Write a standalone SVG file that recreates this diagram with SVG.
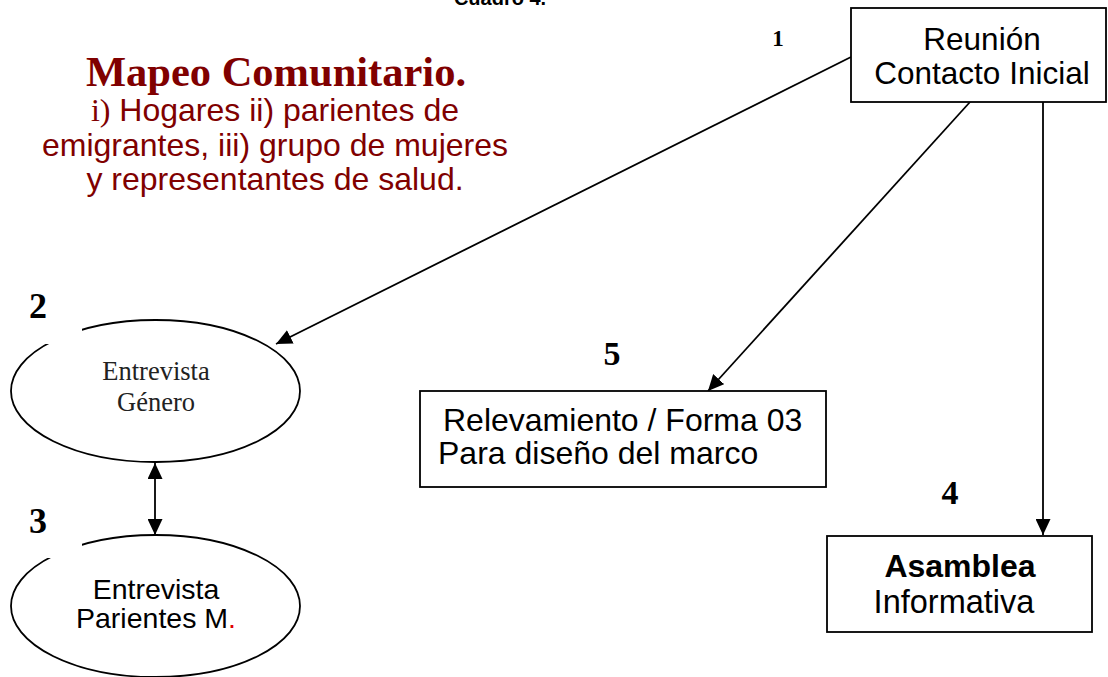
<svg xmlns="http://www.w3.org/2000/svg" width="1108" height="677" viewBox="0 0 1108 677">
<style>
.box{fill:#fff;stroke:#000;stroke-width:1.8}
.ell{fill:#fff;stroke:#000;stroke-width:1.8}
.conn{stroke:#000;stroke-width:1.8;fill:none}
.sans{font-family:"Liberation Sans",Arial,sans-serif;fill:#000}
.num{font-family:"Liberation Serif","Times New Roman",serif;font-weight:bold;fill:#000}
.maroon{fill:#800000}
</style>
<defs>
<marker id="ah" markerUnits="userSpaceOnUse" markerWidth="17" markerHeight="15" refX="16" refY="7.5" orient="auto-start-reverse">
<path d="M0,0 L16,7.5 L0,15 z" fill="#000"/>
</marker>
</defs>
<rect width="1108" height="677" fill="#fff"/>
<text class="sans" x="500" y="5" font-size="20" font-weight="bold" text-anchor="middle">Cuadro 4.</text>
<g id="title">
<text x="276" y="86" text-anchor="middle" font-family="'Liberation Serif','Times New Roman',serif" font-weight="bold" font-size="42.5" class="maroon">Mapeo Comunitario.</text>
<text x="275" y="121" text-anchor="middle" font-family="'Liberation Sans',Arial,sans-serif" font-size="32" class="maroon"><tspan font-family="'Liberation Serif','Times New Roman',serif">i)</tspan> Hogares ii) parientes de</text>
<text x="275" y="156" text-anchor="middle" font-family="'Liberation Sans',Arial,sans-serif" font-size="32" class="maroon">emigrantes, iii) grupo de mujeres</text>
<text x="275" y="190" text-anchor="middle" font-family="'Liberation Sans',Arial,sans-serif" font-size="32" class="maroon">y representantes de salud.</text>
</g>
<g id="connectors">
<line class="conn" x1="851" y1="57" x2="276" y2="344" marker-end="url(#ah)"/>
<line class="conn" x1="970" y1="102" x2="708" y2="391" marker-end="url(#ah)"/>
<line class="conn" x1="1043" y1="102" x2="1043" y2="535" marker-end="url(#ah)"/>
<line class="conn" x1="155" y1="463" x2="155" y2="535" marker-start="url(#ah)" marker-end="url(#ah)"/>
</g>
<g id="node1">
<rect class="box" x="851" y="8" width="255" height="94"/>
<text class="sans" x="982" y="50" font-size="31.5" text-anchor="middle">Reunión</text>
<text class="sans" x="982" y="84" font-size="31.5" text-anchor="middle">Contacto Inicial</text>
<text class="num" x="778" y="46" font-size="23" text-anchor="middle">1</text>
</g>
<g id="node2">
<ellipse class="ell" cx="155.5" cy="391" rx="144.5" ry="71"/>
<rect x="10" y="280" width="72" height="64" fill="#fff"/>
<text class="num" x="38" y="318" font-size="36" text-anchor="middle">2</text>
<text x="156" y="380" font-size="26.5" text-anchor="middle" font-family="'Liberation Serif','Times New Roman',serif" fill="#222">Entrevista</text>
<text x="156" y="411" font-size="26.5" text-anchor="middle" font-family="'Liberation Serif','Times New Roman',serif" fill="#222">Género</text>
</g>
<g id="node3">
<ellipse class="ell" cx="155.5" cy="606" rx="144.5" ry="71"/>
<rect x="10" y="495" width="72" height="63" fill="#fff"/>
<text class="num" x="38" y="533" font-size="36" text-anchor="middle">3</text>
<text class="sans" x="156" y="599" font-size="28.5" text-anchor="middle">Entrevista</text>
<text class="sans" x="156" y="628" font-size="28.5" text-anchor="middle">Parientes M<tspan fill="#e00000">.</tspan></text>
</g>
<g id="node5">
<rect class="box" x="420" y="391" width="406" height="96"/>
<text class="num" x="612" y="365" font-size="34" text-anchor="middle">5</text>
<text class="sans" x="443" y="431" font-size="32">Relevamiento / Forma 03</text>
<text class="sans" x="438" y="464" font-size="32">Para diseño del marco</text>
</g>
<g id="node4">
<rect class="box" x="827" y="536" width="265" height="96"/>
<text class="num" x="950" y="504" font-size="34" text-anchor="middle">4</text>
<text class="sans" x="960" y="577" font-size="32" font-weight="bold" text-anchor="middle">Asamblea</text>
<text class="sans" x="954" y="613" font-size="32.5" text-anchor="middle">Informativa</text>
</g>
</svg>
